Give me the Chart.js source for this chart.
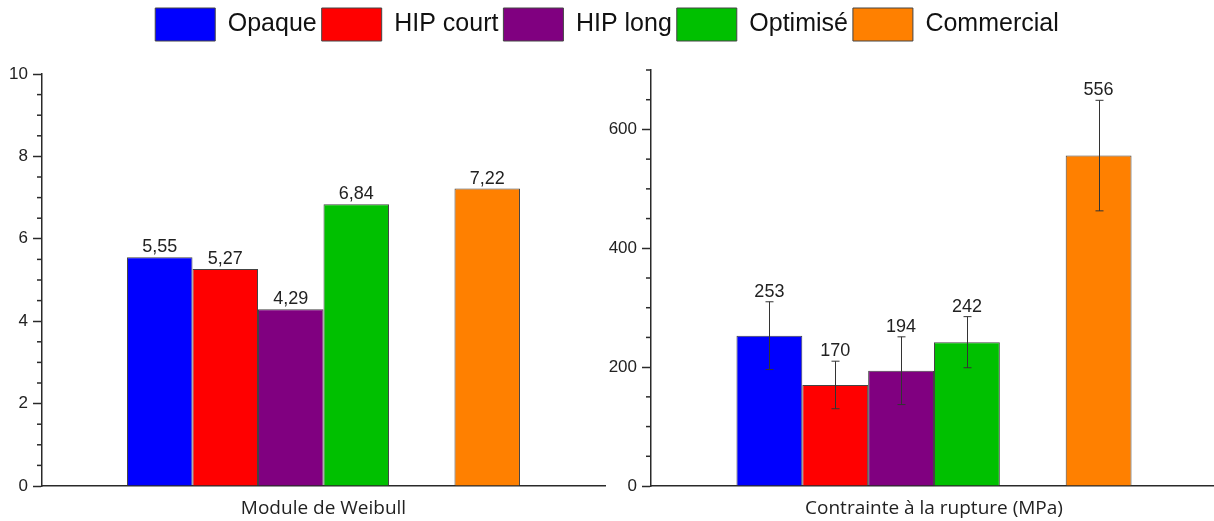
<!DOCTYPE html>
<html>
<head>
<meta charset="utf-8">
<script src="https://cdn.jsdelivr.net/npm/chart.js@4.4.1/dist/chart.umd.min.js"></script>
<style>
  html, body { margin: 0; padding: 0; background: #fff; overflow: hidden; }
  #wrap { position: relative; width: 1214px; height: 521px; }
  #c1 { position: absolute; left: 0; top: 0; }
  #c2 { position: absolute; left: 605px; top: 0; }
</style>
</head>
<body>
<div id="wrap">
  <canvas id="c1" width="1214" height="521"></canvas>
  <canvas id="c2" width="612" height="521"></canvas>
</div>
<script>
const series = ["Opaque", "HIP court", "HIP long", "Optimisé", "Commercial"];
const colors = ["#0000FF", "#FF0000", "#800080", "#00C000", "#FF8000"];
const weibull = [5.55, 5.27, 4.29, 6.84, 7.22];
const stress = [253, 170, 194, 242, 556];
const stressErr = [57, 40, 57, 43, 93];
const weibullTicks = [0, 2, 4, 6, 8, 10];
const stressTicks = [0, 200, 400, 600];

const tickFont = { family: '"Liberation Sans", Arial, sans-serif', size: 17 };
const axisColor = "#2a2a2a";

function makeDatasets(values, errors) {
  const ds = series.map((name, i) => ({
    label: name,
    data: [values[i]],
    err: errors ? errors[i] : 0,
    backgroundColor: colors[i],
    borderColor: "#444",
    borderWidth: 1,
  }));
  // empty slot between Optimisé and Commercial
  ds.splice(4, 0, { label: "", data: [null], backgroundColor: "transparent", borderWidth: 0 });
  return ds;
}

// value text above each bar, plus error bars when a dataset has them
const valueLabels = {
  id: "valueLabels",
  afterDatasetsDraw(chart, args, opts) {
    const ctx = chart.ctx;
    const y = chart.scales.y;
    ctx.save();
    chart.data.datasets.forEach((ds, i) => {
      if (!ds.label) return;
      const bar = chart.getDatasetMeta(i).data[0];
      const v = ds.data[0];
      let top = bar.y;
      if (ds.err) {
        const hi = y.getPixelForValue(v + ds.err);
        const lo = y.getPixelForValue(v - ds.err);
        const x = Math.round(bar.x) + 0.5;
        ctx.strokeStyle = "#333";
        ctx.lineWidth = 1;
        ctx.beginPath();
        ctx.moveTo(x, hi); ctx.lineTo(x, lo);
        ctx.moveTo(x - 4, hi); ctx.lineTo(x + 4, hi);
        ctx.moveTo(x - 4, lo); ctx.lineTo(x + 4, lo);
        ctx.stroke();
        top = hi;
      }
      ctx.fillStyle = "#222";
      ctx.font = '18px "Liberation Sans", Arial, sans-serif';
      ctx.textAlign = "center";
      ctx.textBaseline = "alphabetic";
      ctx.fillText(opts.format(v), bar.x, top - 5);
    });
    ctx.restore();
  },
};

// short outward ticks between the labelled ones
const minorTicks = {
  id: "minorTicks",
  afterDraw(chart, args, opts) {
    const s = chart.scales.y;
    const ctx = chart.ctx;
    ctx.save();
    ctx.strokeStyle = axisColor;
    ctx.lineWidth = 1.5;
    s.ticks.forEach((t) => {
      if (opts.major.includes(t.value)) return;
      const py = s.getPixelForValue(t.value);
      ctx.beginPath();
      ctx.moveTo(s.right - 5, py);
      ctx.lineTo(s.right, py);
      ctx.stroke();
    });
    ctx.restore();
  },
};

function yAxis(max, step, majors, width, top) {
  return {
    min: 0,
    max: max,
    afterFit: (s) => {
      s.width = width;
      if (top) s.paddingTop = top;
    },
    ticks: {
      stepSize: step,
      maxTicksLimit: 100,
      autoSkip: false,
      padding: 5,
      color: "#222",
      font: tickFont,
      callback: (v) => (majors.includes(v) ? v : ""),
    },
    grid: {
      drawOnChartArea: false,
      drawTicks: true,
      tickLength: 9,
      tickWidth: 1.5,
      tickColor: (c) => (c.tick && majors.includes(c.tick.value) ? axisColor : "rgba(0,0,0,0)"),
    },
    border: { color: axisColor, width: 1.5 },
  };
}

function xAxis(title) {
  return {
    type: "category",
    labels: [title],
    afterFit: (s) => { s.height = 35; },
    ticks: { padding: 11, color: "#222", font: { family: '"Open Sans", sans-serif', size: 19 } },
    grid: { display: false, drawTicks: false },
    border: { color: axisColor, width: 1.5 },
  };
}

const common = {
  responsive: false,
  animation: false,
  events: [],
  datasets: { bar: { categoryPercentage: 0.698, barPercentage: 1 } },
};

new Chart(document.getElementById("c1"), {
  type: "bar",
  data: { labels: ["Module de Weibull"], datasets: makeDatasets(weibull, null) },
  options: {
    ...common,
    layout: { padding: { top: 3, left: 0, right: 0, bottom: 0 } },
    scales: {
      x: xAxis("Module de Weibull"),
      y: yAxis(10, 0.5, weibullTicks, 42, 0),
      // invisible axis that keeps the right half of the canvas free for the second chart
      yPad: {
        position: "right",
        ticks: { display: false },
        grid: { display: false },
        border: { display: false },
        afterFit: (s) => { s.width = 609; },
      },
    },
    plugins: {
      tooltip: { enabled: false },
      legend: {
        position: "top",
        labels: {
          boxWidth: 60,
          boxHeight: 33,
          padding: 5,
          color: "#111",
          font: { family: '"Liberation Sans", Arial, sans-serif', size: 25 },
          filter: (item) => item.text !== "",
        },
      },
      // empty spacer between the legend and the plot
      subtitle: {
        display: true,
        text: "",
        weight: 500,
        padding: 0,
        font: { size: 23, lineHeight: 1 },
      },
      valueLabels: { format: (v) => v.toFixed(2).replace(".", ",") },
      minorTicks: { major: weibullTicks },
    },
  },
  plugins: [valueLabels, minorTicks],
});

new Chart(document.getElementById("c2"), {
  type: "bar",
  data: { labels: ["Contrainte à la rupture (MPa)"], datasets: makeDatasets(stress, stressErr) },
  options: {
    ...common,
    layout: { padding: 0 },
    scales: {
      x: xAxis("Contrainte à la rupture (MPa)"),
      y: yAxis(700, 50, stressTicks, 46, 70),
    },
    plugins: {
      tooltip: { enabled: false },
      legend: { display: false },
      valueLabels: { format: (v) => String(v) },
      minorTicks: { major: stressTicks },
    },
  },
  plugins: [valueLabels, minorTicks],
});
</script>
</body>
</html>
